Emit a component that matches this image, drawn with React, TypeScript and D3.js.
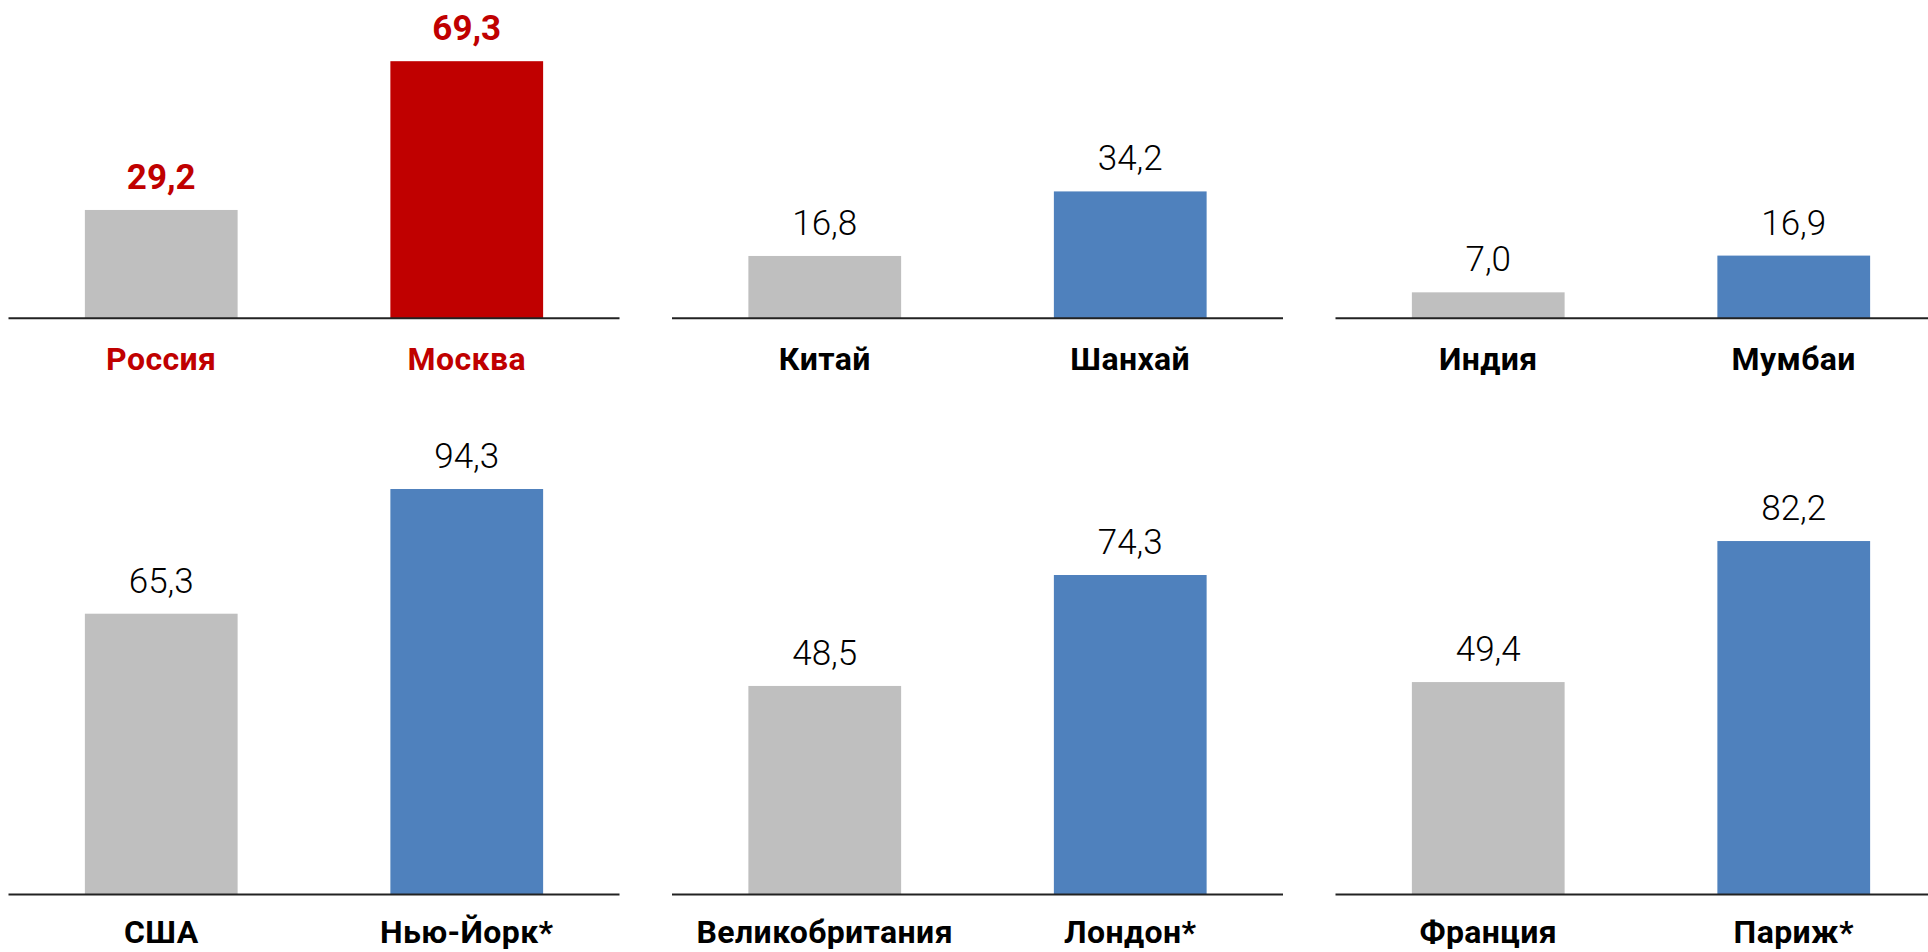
import * as d3 from 'd3'
import { useEffect, useRef } from 'react'

// countries (grey bars) and their main cities (coloured bars), panel by panel
const COUNTRIES = ['Россия', 'Китай', 'Индия', 'США', 'Великобритания', 'Франция']
const CITIES = ['Москва', 'Шанхай', 'Мумбаи', 'Нью-Йорк*', 'Лондон*', 'Париж*']
const COUNTRY_VALUES = [29.2, 16.8, 7.0, 65.3, 48.5, 49.4]
const CITY_VALUES = [69.3, 34.2, 16.9, 94.3, 74.3, 82.2]
const HIGHLIGHT = [true, false, false, false, false, false]
const ROW_MAX = [80, 100]

export default function App() {
  const ref = useRef<HTMLDivElement>(null)

  useEffect(() => {
    const width = 1928
    const height = 952
    const panelWidth = 611
    const panelStep = 663.5
    const left = 8.5
    const baselines = [318.3, 894.5]
    const plotHeights = [296.8, 430]
    const labelOffsets = [52, 48]

    const red = '#c00000'
    const blue = '#4f81bd'
    const grey = '#bfbfbf'

    const locale = d3.formatLocale({
      decimal: ',',
      thousands: ' ',
      grouping: [3],
      currency: ['', ''],
    })
    const fmt = locale.format('.1f')

    const svg = d3
      .create('svg')
      .attr('width', width)
      .attr('height', height)
      .attr('viewBox', [0, 0, width, height])
      .attr('style', 'position:absolute;left:0;top:0;background:#fff;')

    /* panels: 3 per row, 2 rows */
    const panelX = d3
      .scaleLinear()
      .domain([0, 1])
      .range([left, left + panelStep])

    const inner = d3
      .scaleBand()
      .domain(['country', 'city'])
      .range([0, panelWidth])
      .paddingInner(0.5)
      .paddingOuter(0.25)

    const yScales = ROW_MAX.map((m, r) =>
      d3
        .scaleLinear()
        .domain([0, m])
        .range([baselines[r], baselines[r] - plotHeights[r]]),
    )

    COUNTRIES.forEach((country, i) => {
      const row = Math.floor(i / 3)
      const col = i % 3
      const y = yScales[row]
      const g = svg
        .append('g')
        .attr('transform', `translate(${panelX(col)},0)`)

      const items = [
        {
          key: 'country',
          name: country,
          value: COUNTRY_VALUES[i],
          fill: grey,
          text: HIGHLIGHT[i] ? red : '#000',
        },
        {
          key: 'city',
          name: CITIES[i],
          value: CITY_VALUES[i],
          fill: HIGHLIGHT[i] ? red : blue,
          text: HIGHLIGHT[i] ? red : '#000',
        },
      ]

      g.selectAll('rect')
        .data(items)
        .join('rect')
        .attr('x', (d) => inner(d.key) as number)
        .attr('y', (d) => y(d.value))
        .attr('width', inner.bandwidth())
        .attr('height', (d) => y(0) - y(d.value))
        .attr('fill', (d) => d.fill)

      // baseline
      g.append('line')
        .attr('x1', 0)
        .attr('x2', panelWidth)
        .attr('y1', y(0))
        .attr('y2', y(0))
        .attr('stroke', '#222')
        .attr('stroke-width', 2)

      // value labels
      g.selectAll('text.value')
        .data(items)
        .join('text')
        .attr('class', 'value')
        .attr('x', (d) => (inner(d.key) as number) + inner.bandwidth() / 2)
        .attr('y', (d) => y(d.value) - 21)
        .attr('text-anchor', 'middle')
        .attr('font-family', 'Roboto, "Open Sans", sans-serif')
        .attr('font-size', 35)
        .attr('font-weight', HIGHLIGHT[i] ? 700 : 300)
        .attr('fill', (d) => d.text)
        .text((d) => fmt(d.value))

      // category labels
      g.selectAll('text.cat')
        .data(items)
        .join('text')
        .attr('class', 'cat')
        .attr('x', (d) => (inner(d.key) as number) + inner.bandwidth() / 2)
        .attr('y', y(0) + labelOffsets[row])
        .attr('text-anchor', 'middle')
        .attr('font-family', 'Roboto, "Open Sans", sans-serif')
        .attr('font-size', 32)
        .attr('font-weight', 700)
        .attr('letter-spacing', 0.4)
        .attr('fill', (d) => d.text)
        .text((d) => d.name)
    })

    const node = svg.node()
    if (ref.current && node) {
      ref.current.innerHTML = ''
      ref.current.appendChild(node)
    }
  }, [])

  return <div ref={ref} />
}
